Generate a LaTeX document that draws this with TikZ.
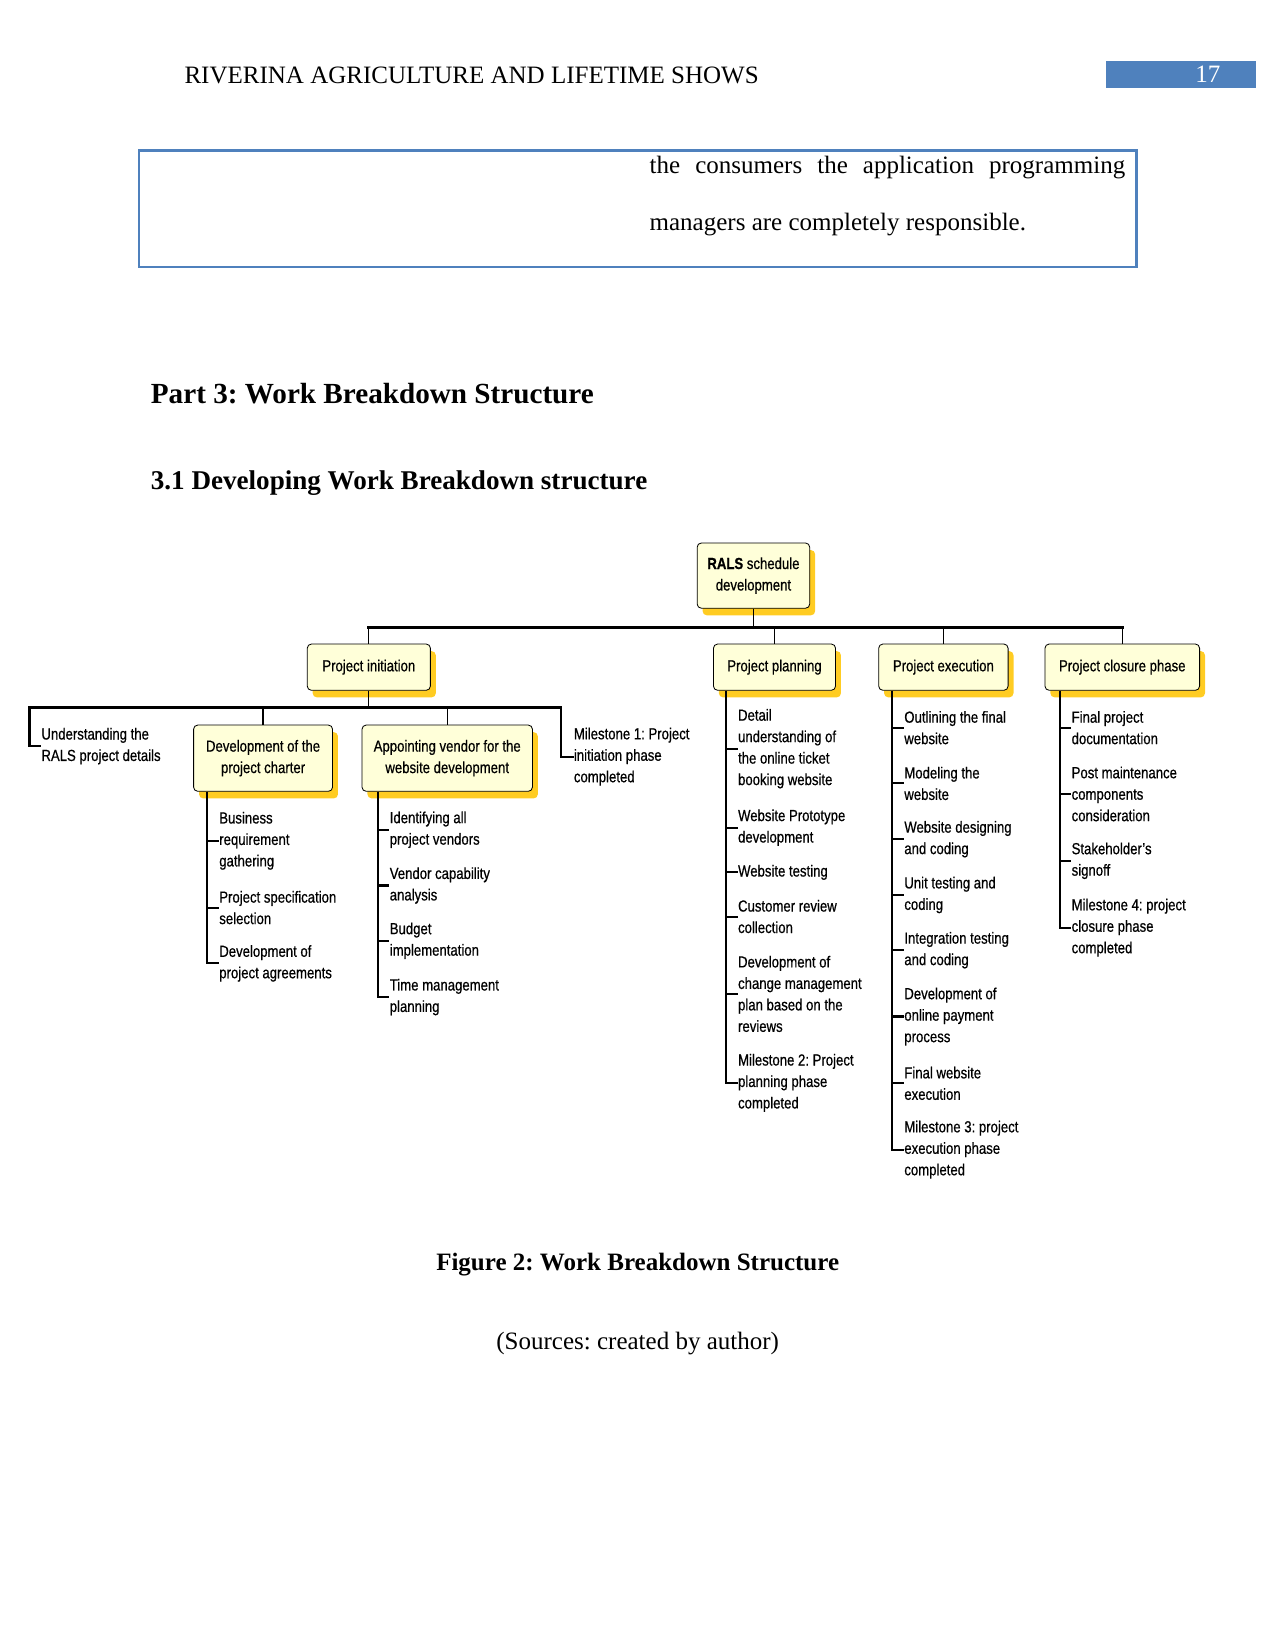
\documentclass[tikz,border=0pt]{standalone}
\usepackage{fontspec}
\setmainfont{Liberation Serif}
\newfontfamily\wbsfont{Liberation Sans}[FakeStretch=0.82, FakeBold=0.6]
\usetikzlibrary{shadows}

\definecolor{hdrBlue}{HTML}{4F81BD}
\definecolor{boxFill}{HTML}{FFFFD9}
\definecolor{boxShadow}{HTML}{FFCC22}

\newcommand{\wbs}{\wbsfont\fontsize{7.7}{10.3}\selectfont}

\begin{document}
\frenchspacing
\begin{tikzpicture}[
    x=0.505pt, y=-0.505pt,
    wbsbox/.style={draw=black, line width=0.4pt, fill=boxFill,
                   rounded corners=2pt, font=\wbs, align=center, inner sep=1pt,
                   drop shadow={shadow xshift=2.6pt, shadow yshift=-3.4pt,
                                fill=boxShadow, opacity=1}},
    leaf/.style={font=\wbs, align=left, anchor=west, inner sep=0pt},
    bus/.style={line width=1.3pt, line cap=rect},
    link/.style={line width=0.6pt},
    spine/.style={line width=1pt},
    body/.style={font=\fontsize{12}{14}\selectfont, inner sep=0pt},
    heading/.style={font=\fontsize{14}{16}\selectfont\bfseries,
                    inner sep=0pt, anchor=base west},
]
\useasboundingbox (0,0) rectangle (1212,1568);

% --- Page header ---
\node[body, anchor=base west] (hdr) at (175,79)
    {RIVERINA AGRICULTURE AND LIFETIME SHOWS};
\fill[hdrBlue] (1051,58) rectangle (1194,84);
\node[body, anchor=base east, text=white] (pgno) at (1160,78) {17};

% --- Text box carried over from previous page ---
\draw[hdrBlue, line width=1pt] (132,143) rectangle (1080,254);
\node[body, anchor=base west] (box1) at (617,165)
    {\makebox[228.2pt][s]{the consumers the application programming}};
\node[body, anchor=base west] (box2) at (617,219)
    {managers are completely responsible.};

% --- Headings ---
\node[heading] (part) at (143,383) {Part 3: Work Breakdown Structure};
\node[heading, font=\fontsize{13}{15}\selectfont\bfseries]
    (sect) at (143,465) {3.1 Developing Work Breakdown structure};

% --- Boxes ---
\node[wbsbox, minimum width=54pt, minimum height=31.3pt]
    (root) at (716,547) {\textbf{RALS} schedule\\development};
\node[wbsbox, minimum width=59.1pt, minimum height=22.2pt]
    (pini) at (350.5,634) {Project initiation};
\node[wbsbox, minimum width=58.6pt, minimum height=22.2pt]
    (pplan) at (736,634) {Project planning};
\node[wbsbox, minimum width=62.1pt, minimum height=22.2pt]
    (pexec) at (896.5,634) {Project execution};
\node[wbsbox, minimum width=74.2pt, minimum height=22.2pt]
    (pclose) at (1066.5,634) {Project closure phase};
\node[wbsbox, minimum width=66.7pt, minimum height=31.8pt]
    (charter) at (250,720.5) {Development of the\\project charter};
\node[wbsbox, minimum width=81.8pt, minimum height=31.8pt]
    (vendor) at (425,720.5) {Appointing vendor for the\\website development};

% Level 1 bus
\coordinate (bus1) at (716,596);
\draw[link] (root.south) -- (root.south |- bus1);
\draw[bus] (pini.north |- bus1) -- (pclose.north |- bus1);
\foreach \n in {pini, pplan, pexec, pclose}
    \draw[link] (\n.north) -- (\n.north |- bus1);

% Level 2 bus (initiation)
\coordinate (bus2) at (350.5,672);
\coordinate (hookL) at (28,672);
\coordinate (hookR) at (533,672);
\draw[link] (pini.south) -- (bus2);
\draw[bus] (hookL) -- (hookR);
\foreach \n in {charter, vendor}
    \draw[link] (\n.north) -- (\n.north |- bus2);

\node[leaf] (und) at (39,709) {Understanding the\\RALS project details};
\node[leaf] (ms1) at (545,719)
    {Milestone 1: Project\\initiation phase\\completed};
\draw[spine] (hookL) |- (und.west);
\draw[spine] (hookR) |- (ms1.west);

% --- Work packages ---
% Development of the project charter
\coordinate (chsp) at (197,0);
\foreach \i/\y/\t in {1/799/{Business\\requirement\\gathering},
                      2/862.5/{Project specification\\selection},
                      3/915.5/{Development of\\project agreements}} {
    \node[leaf] (ch\i) at (208,\y) {\t};
    \draw[spine] (ch\i.west -| chsp) -- (ch\i.west);
}
\draw[spine] (charter.south -| chsp) |- (ch3.west);

% Appointing vendor
\coordinate (vesp) at (359,0);
\foreach \i/\y/\t in {1/788.5/{Identifying all\\project vendors},
                      2/841.5/{Vendor capability\\analysis},
                      3/894/{Budget\\implementation},
                      4/947.5/{Time management\\planning}} {
    \node[leaf] (ve\i) at (370,\y) {\t};
    \draw[spine] (ve\i.west -| vesp) -- (ve\i.west);
}
\draw[spine] (vendor.south -| vesp) |- (ve4.west);

% Project planning
\coordinate (plsp) at (690,0);
\foreach \i/\y/\t in {1/711.5/{Detail\\understanding of\\the online ticket\\booking website},
                      2/786.5/{Website Prototype\\development},
                      3/829/{Website testing},
                      4/871/{Customer review\\collection},
                      5/944.5/{Development of\\change management\\plan based on the\\reviews},
                      6/1029/{Milestone 2: Project\\planning phase\\completed}} {
    \node[leaf] (pl\i) at (701,\y) {\t};
    \draw[spine] (pl\i.west -| plsp) -- (pl\i.west);
}
\draw[spine] (pplan.south -| plsp) |- (pl6.west);

% Project execution
\coordinate (exsp) at (848,0);
\foreach \i/\y/\t in {1/691.5/{Outlining the final\\website},
                      2/744.5/{Modeling the\\website},
                      3/797.5/{Website designing\\and coding},
                      4/850.5/{Unit testing and\\coding},
                      5/903/{Integration testing\\and coding},
                      6/966/{Development of\\online payment\\process},
                      7/1029.5/{Final website\\execution},
                      8/1092.5/{Milestone 3: project\\execution phase\\completed}} {
    \node[leaf] (ex\i) at (859,\y) {\t};
    \draw[spine] (ex\i.west -| exsp) -- (ex\i.west);
}
\draw[spine] (pexec.south -| exsp) |- (ex8.west);

% Project closure
\coordinate (clsp) at (1007,0);
\foreach \i/\y/\t in {1/691.5/{Final project\\documentation},
                      2/754.5/{Post maintenance\\components\\consideration},
                      3/818/{Stakeholder’s\\signoff},
                      4/881.5/{Milestone 4: project\\closure phase\\completed}} {
    \node[leaf] (cl\i) at (1018,\y) {\t};
    \draw[spine] (cl\i.west -| clsp) -- (cl\i.west);
}
\draw[spine] (pclose.south -| clsp) |- (cl4.west);

% --- Caption ---
\node[body, anchor=base, font=\fontsize{12}{14}\selectfont\bfseries]
    (cap) at (606,1207) {Figure 2: Work Breakdown Structure};
\node[body, anchor=base] (src) at (606,1282) {(Sources: created by author)};

\end{tikzpicture}
\end{document}
